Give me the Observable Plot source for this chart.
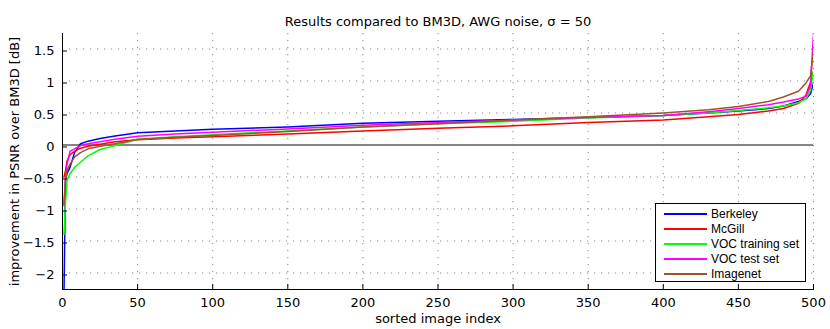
<!DOCTYPE html>
<html>
<head>
<meta charset="utf-8">
<script src="https://cdn.jsdelivr.net/npm/d3@7"></script>
<script src="https://cdn.jsdelivr.net/npm/@observablehq/plot@0.6"></script>
<style>
  html, body { margin: 0; padding: 0; background: #fff; }
  #wrap { position: relative; width: 830px; height: 329px; }
  #legend { position: absolute; left: 655px; top: 203px; width: 149px; height: 77px;
    border: 1px solid #000; background: #fff; font-family: "Liberation Sans", Arial, sans-serif; font-size: 12px; }
  .row { position: absolute; left: 0; height: 15px; display: flex; align-items: center; }
  .sw { display: inline-block; width: 43px; height: 2px; margin-left: 8px; margin-right: 4px; }
</style>
</head>
<body>
<div id="wrap"></div>
<script>
const seriesNames = ["Berkeley", "McGill", "VOC training set", "VOC test set", "Imagenet"];
const seriesColors = ["#0000ff", "#ff0000", "#00ff00", "#ff00ff", "#a0522d"];
const imageIndex = [1, 2, 3, 5, 8, 12, 17, 25, 35, 50, 75, 100, 150, 200, 250, 300, 350, 400, 430, 450, 470, 480, 490, 495, 498, 500];
const berkeley = [-2.3, -0.55, -0.45, -0.35, -0.12, 0.02, 0.06, 0.10, 0.14, 0.19, 0.22, 0.245, 0.28, 0.34, 0.37, 0.40, 0.43, 0.46, 0.50, 0.53, 0.57, 0.61, 0.68, 0.72, 0.80, 0.97];
const mcgill = [-0.5, -0.4, -0.25, -0.15, -0.10, -0.05, -0.02, 0.01, 0.05, 0.08, 0.11, 0.13, 0.17, 0.22, 0.26, 0.30, 0.35, 0.39, 0.44, 0.475, 0.53, 0.57, 0.65, 0.78, 0.98, 1.15];
const vocTraining = [-1.4, -0.9, -0.55, -0.45, -0.35, -0.27, -0.17, -0.07, -0.01, 0.09, 0.13, 0.16, 0.22, 0.28, 0.33, 0.37, 0.42, 0.46, 0.50, 0.54, 0.58, 0.61, 0.66, 0.72, 0.85, 1.16];
const vocTest = [-0.92, -0.5, -0.3, -0.1, -0.06, -0.01, 0.02, 0.05, 0.09, 0.135, 0.17, 0.20, 0.25, 0.31, 0.35, 0.39, 0.43, 0.46, 0.52, 0.57, 0.63, 0.67, 0.72, 0.76, 0.92, 1.74];
const imagenet = [-0.95, -0.55, -0.4, -0.3, -0.19, -0.12, -0.06, -0.02, 0.02, 0.085, 0.12, 0.15, 0.21, 0.28, 0.33, 0.39, 0.44, 0.50, 0.55, 0.60, 0.68, 0.75, 0.84, 0.97, 1.08, 1.47];
const xTicks = [0, 50, 100, 150, 200, 250, 300, 350, 400, 450, 500];
const yTicks = [-2, -1.5, -1, -0.5, 0, 0.5, 1, 1.5];
const titleText = "Results compared to BM3D, AWG noise, σ = 50";
const xLabel = "sorted image index";
const yLabel = "improvement in PSNR over BM3D [dB]";

const allSeries = [berkeley, mcgill, vocTraining, vocTest, imagenet];
const rows = [];
allSeries.forEach((vals, s) => {
  vals.forEach((v, k) => rows.push({ series: seriesNames[s], i: imageIndex[k], v }));
});

const fmt = d => (d < 0 ? "\u2212" : "") + String(Math.abs(d));
const font = "DejaVu Sans, sans-serif";

const chart = Plot.plot({
  width: 830,
  height: 329,
  marginLeft: 62,
  marginRight: 17,
  marginTop: 33,
  marginBottom: 40,
  style: { fontFamily: font, fontSize: "13px", background: "#fff", color: "#000" },
  x: { domain: [0, 500], ticks: xTicks },
  y: { domain: [-2.258, 1.742], ticks: yTicks },
  color: { domain: seriesNames, range: seriesColors },
  marks: [
    Plot.gridX(xTicks, { stroke: "#888", strokeOpacity: 1, strokeDasharray: "1.2,5.8" }),
    Plot.gridY(yTicks, { stroke: "#888", strokeOpacity: 1, strokeDasharray: "1.2,5.8" }),
    Plot.ruleY([0], { stroke: "#858585", strokeWidth: 2 }),
    Plot.line(rows, { x: "i", y: "v", z: "series", stroke: "series", strokeWidth: 1.5, clip: true }),
    Plot.axisX(xTicks, { tickSize: -5, tickPadding: 13, tickFormat: fmt, label: null, fontSize: 13 }),
    Plot.axisY(yTicks, { tickSize: -5, tickPadding: 13, tickFormat: fmt, label: null, fontSize: 13, dy: 2 }),
    Plot.frame({ anchor: "bottom", stroke: "#000" }),
    Plot.frame({ anchor: "left", stroke: "#000" }),
    Plot.text([titleText], { frameAnchor: "top", dy: -17, fontSize: 13 }),
    Plot.text([xLabel], { frameAnchor: "bottom", dy: 33, fontSize: 13 }),
    Plot.text([yLabel], { frameAnchor: "left", textAnchor: "middle", dx: -48, rotate: -90, fontSize: 13 })
  ]
});

const wrap = document.getElementById("wrap");
wrap.appendChild(chart);

const legend = document.createElement("div");
legend.id = "legend";
seriesNames.forEach((name, k) => {
  const row = document.createElement("div");
  row.className = "row";
  row.style.top = (2 + k * 15) + "px";
  const sw = document.createElement("span");
  sw.className = "sw";
  sw.style.background = seriesColors[k];
  const t = document.createElement("span");
  t.textContent = name;
  row.appendChild(sw);
  row.appendChild(t);
  legend.appendChild(row);
});
wrap.appendChild(legend);
</script>
</body>
</html>
